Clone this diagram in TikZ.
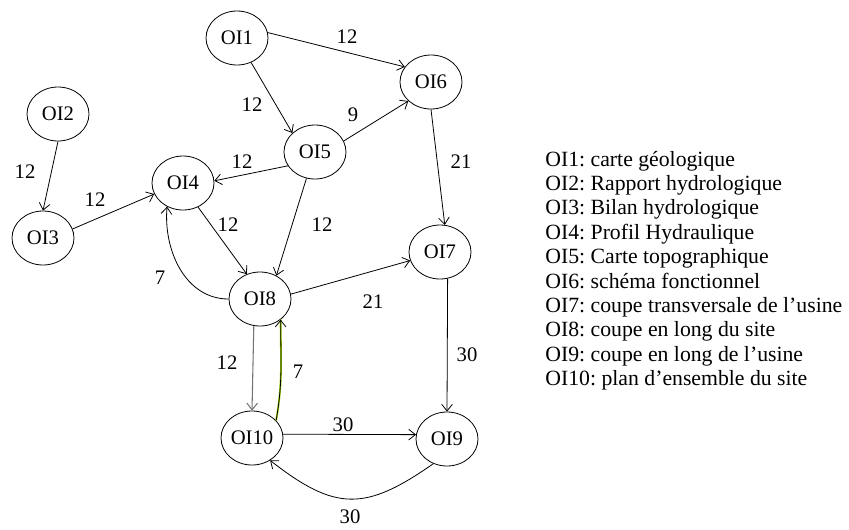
\documentclass[tikz,border=0pt]{standalone}
\usepackage{fontspec}
\setmainfont{Liberation Serif}
\usepackage{tikz}
\usetikzlibrary{shapes.geometric,arrows.meta}
\definecolor{hilite}{RGB}{160,210,10}
\frenchspacing
\tikzset{
  oi/.style={ellipse,draw,inner sep=0pt,minimum width=46.5pt,minimum height=40.5pt,font=\fontsize{15.5}{18}\selectfont},
  wt/.style={inner sep=0pt,font=\fontsize{15.5}{18}\selectfont},
  lg/.style={anchor=base west,inner sep=0pt,font=\fontsize{16.3}{19}\selectfont},
  fl/.style={-{Straight Barb[length=5pt,width=8pt]}}
}
\newcommand{\oinode}[3]{\node[oi] (#1) at (#2,#3) {#1};}
\newcommand{\wlabel}[4]{\node[wt] (#1) at (#2,#3) {#4};}
\newcommand{\legline}[3]{\node[lg] (#1) at (545,#2) {#3};}

\begin{document}
\begin{tikzpicture}[x=0.75pt,y=-0.75pt,line width=0.6pt]
\useasboundingbox (0,0) rectangle (849,529);

\oinode{OI1}{237}{38}
\oinode{OI2}{58}{114}
\oinode{OI3}{43}{238}
\oinode{OI4}{183}{183}
\oinode{OI5}{315}{152}
\oinode{OI6}{431}{82}
\oinode{OI7}{440}{252}
\oinode{OI8}{260}{299}
\oinode{OI9}{447}{439}
\oinode{OI10}{252}{438}

\draw[fl] (OI1.10) -- (OI6.150);
\draw[fl] (OI1.-60) -- (OI5.140);
\draw[fl] (OI2.south) -- (OI3.north);
\draw[fl] (OI3.17) -- (OI4.201);
\draw[fl] (OI5.207) -- (OI4.4);
\draw[fl] (OI5.21) -- (OI6.220);
\draw[fl] (OI5.252) -- (OI8.55);
\draw[fl] (OI4.-58) -- (OI8.118);
\draw[fl] (OI6.south) -- (OI7.80);
\draw[fl] (OI8.9) -- (OI7.196);
\draw[fl] (OI8.west) to[out=180,in=-95] (OI4.-124);
\draw[fl,black!55,line width=0.8pt] (OI8.-103) -- (OI10.north);
\draw[hilite,line width=1.4pt,xshift=-0.9pt] (OI10.36) to[out=80,in=-90] (OI8.-45);
\draw[fl] (OI10.36) to[out=80,in=-90] (OI8.-45);
\draw[fl] (OI10.7) -- (OI9.172);
\draw[fl] (OI9.-119) to[out=-145,in=-38,looseness=1.3] (OI10.-51);
\draw[fl] (OI7.-74) -- (OI9.north);

\wlabel{w16}{347}{37}{12}
\wlabel{w15}{252}{105}{12}
\wlabel{w23}{25}{172}{12}
\wlabel{w34}{95}{200}{12}
\wlabel{w54}{242}{162}{12}
\wlabel{w56}{353}{115}{9}
\wlabel{w48}{228}{225}{12}
\wlabel{w58}{322}{225}{12}
\wlabel{w67}{461}{162}{21}
\wlabel{w87}{373}{302}{21}
\wlabel{w84}{160}{278}{7}
\wlabel{w810}{227}{363}{12}
\wlabel{w108}{298}{372}{7}
\wlabel{w109}{343}{425}{30}
\wlabel{w910}{350}{517}{30}
\wlabel{w79}{467}{355}{30}

\legline{l1}{166}{OI1: carte géologique}
\legline{l2}{190.4}{OI2: Rapport hydrologique}
\legline{l3}{214.8}{OI3: Bilan hydrologique}
\legline{l4}{239.2}{OI4: Profil Hydraulique}
\legline{l5}{263.6}{OI5: Carte topographique}
\legline{l6}{288}{OI6: schéma fonctionnel}
\legline{l7}{312.4}{OI7: coupe transversale de l’usine}
\legline{l8}{336.8}{OI8: coupe en long du site}
\legline{l9}{361.2}{OI9: coupe en long de l’usine}
\legline{l10}{385.6}{OI10: plan d’ensemble du site}
\end{tikzpicture}
\end{document}
